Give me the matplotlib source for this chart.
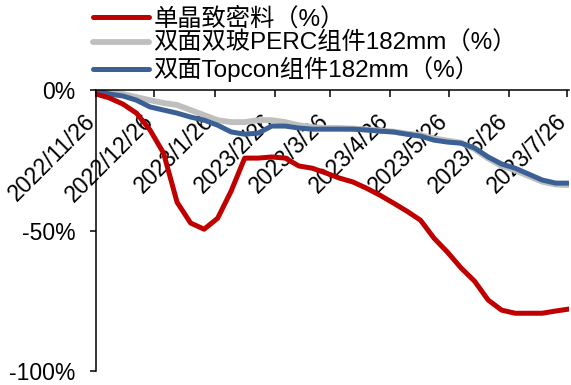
import matplotlib
matplotlib.use("Agg")
import matplotlib.pyplot as plt
import matplotlib.dates as mdates
import matplotlib.ticker as mticker
import pandas as pd

plt.rcParams["font.family"] = ["Liberation Sans", "Noto Sans CJK SC", "DejaVu Sans"]

# weekly-ish sampling, 2022/11/26 .. 2023/7/27
dates = pd.date_range("2022-11-26", "2023-07-27", periods=36)

polysilicon = [
    -1.4, -2.8, -5.0, -8.2, -14.2, -22.4, -39.9, -47.3, -49.5, -45.6,
    -35.9, -24.2, -24.2, -23.8, -24.2, -27.0, -27.8, -29.5, -31.3, -32.7,
    -34.9, -37.4, -40.2, -43.1, -46.3, -52.7, -57.7, -63.3, -68.0, -74.7,
    -78.3, -79.4, -79.4, -79.4, -78.6, -77.9,
]
perc_module = [
    0.0, -0.7, -1.4, -2.5, -3.6, -4.6, -5.3, -7.1, -8.9, -10.7,
    -11.4, -11.4, -10.7, -10.7, -11.4, -12.5, -13.2, -13.5, -13.5, -13.7,
    -14.0, -14.4, -14.8, -15.5, -16.0, -17.2, -18.0, -18.7, -21.0, -24.3,
    -27.0, -28.5, -30.6, -32.6, -33.6, -33.8,
]
topcon_module = [
    0.0, -1.4, -2.1, -3.6, -6.0, -7.1, -8.2, -9.6, -10.7, -12.5,
    -14.9, -15.7, -15.3, -12.8, -12.8, -13.5, -13.9, -13.9, -13.9, -13.9,
    -14.2, -14.6, -14.9, -15.7, -16.4, -17.8, -18.5, -18.9, -20.6, -23.8,
    -26.3, -27.8, -29.9, -32.0, -33.1, -33.1,
]

labels = ["单晶致密料（%）", "双面双玻PERC组件182mm（%）", "双面Topcon组件182mm（%）"]
colors = ["#C00000", "#BFBFBF", "#3A6095"]

fig = plt.figure(figsize=(5.71, 3.85), dpi=100)
ax = fig.add_axes([0.168, 0.036, 0.829, 0.73])

line_kw = dict(solid_joinstyle="round", solid_capstyle="round")
l_gray, = ax.plot(dates, perc_module, color=colors[1], lw=4.2, label=labels[1], **line_kw)
l_blue, = ax.plot(dates, topcon_module, color=colors[2], lw=3.6, label=labels[2], **line_kw)
l_red, = ax.plot(dates, polysilicon, color=colors[0], lw=3.6, label=labels[0], **line_kw)

ax.set_ylim(-100, 0)
ax.set_xlim(pd.Timestamp("2022-11-26"), pd.Timestamp("2023-07-27"))
ax.yaxis.set_major_locator(mticker.MultipleLocator(50))
ax.yaxis.set_major_formatter(mticker.FuncFormatter(lambda v, _: f"{v:.0f}%"))

ax.xaxis.set_major_locator(mdates.MonthLocator(bymonthday=26))
ax.xaxis.set_major_formatter(mticker.FuncFormatter(
    lambda v, _: f"{mdates.num2date(v).year}/{mdates.num2date(v).month}/{mdates.num2date(v).day}"))

ax.spines[["top", "right"]].set_visible(False)
ax.spines["bottom"].set_position(("data", 0))
for s in ("left", "bottom"):
    ax.spines[s].set_linewidth(1.1)

ax.tick_params(axis="x", direction="out", length=5, width=1.1, pad=18, labelsize=16.5)
ax.tick_params(axis="y", direction="out", length=4.5, width=1.1, pad=10, labelsize=16.5)
for t in ax.get_xticklabels():
    t.set_rotation(45)
    t.set_rotation_mode("anchor")
    t.set_ha("right")
    t.set_va("baseline")

fig.legend(handles=[l_red, l_gray, l_blue], labels=labels,
           loc="upper left", bbox_to_anchor=(0.163, 0.982), frameon=False,
           fontsize=17.5, handlelength=2.3, handletextpad=0.18, labelspacing=0.06,
           borderpad=0, borderaxespad=0)

fig.savefig("out.png", dpi=100)
